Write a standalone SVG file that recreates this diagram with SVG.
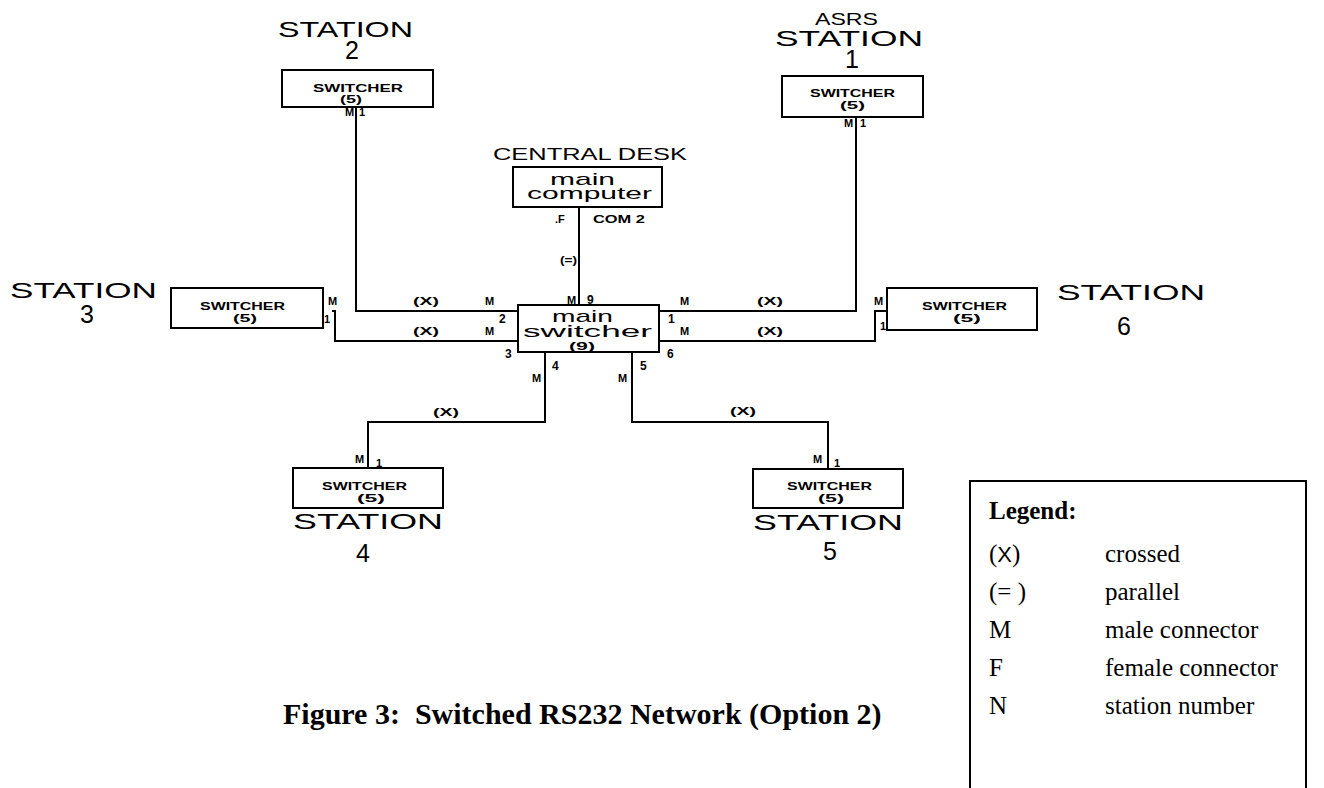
<svg xmlns="http://www.w3.org/2000/svg" width="1324" height="788" viewBox="0 0 1324 788">
<style>
.ln{fill:none;stroke:#000;stroke-width:2}
.bx{fill:#fff;stroke:#000;stroke-width:2}
.st{font-family:"Liberation Sans",Arial,sans-serif;font-size:22px;fill:#000}
.dg{font-family:"Liberation Sans",Arial,sans-serif;font-size:25px;fill:#000;text-anchor:middle}
.md{font-family:"Liberation Sans",Arial,sans-serif;font-size:17px;fill:#000}
.sw{font-family:"Liberation Sans",Arial,sans-serif;font-size:11px;font-weight:bold;fill:#000}
.s5{font-family:"Liberation Sans",Arial,sans-serif;font-size:10px;font-weight:bold;fill:#000}
.sm{font-family:"Liberation Sans",Arial,sans-serif;font-size:11px;font-weight:bold;fill:#000}
.pt{font-family:"Liberation Sans",Arial,sans-serif;font-size:12px;font-weight:bold;fill:#000}
.lg{font-family:"Liberation Serif","Times New Roman",serif;font-size:25px;fill:#000}
.lgb{font-family:"Liberation Serif","Times New Roman",serif;font-size:25px;font-weight:bold;fill:#000}
.cap{font-family:"Liberation Serif","Times New Roman",serif;font-size:30px;font-weight:bold;fill:#000}
</style>
<rect width="1324" height="788" fill="#fff"/>

<g id="connectors">
<path class="ln" d="M356,107 V311 H518"/>
<path class="ln" d="M332,311 H335 V341 H518"/>
<path class="ln" d="M660,311 H856 V117"/>
<path class="ln" d="M660,341 H875 V311 H887"/>
<path class="ln" d="M545,352 V422 H368 V468"/>
<path class="ln" d="M632,352 V422 H828 V469"/>
<path class="ln" d="M579,207 V305"/>
<text class="sm" x="413" y="305" textLength="26" lengthAdjust="spacingAndGlyphs">(X)</text>
<text class="sm" x="413" y="335" textLength="26" lengthAdjust="spacingAndGlyphs">(X)</text>
<text class="sm" x="757" y="305" textLength="26" lengthAdjust="spacingAndGlyphs">(X)</text>
<text class="sm" x="757" y="335" textLength="26" lengthAdjust="spacingAndGlyphs">(X)</text>
<text class="sm" x="433" y="416" textLength="26" lengthAdjust="spacingAndGlyphs">(X)</text>
<text class="sm" x="730" y="415" textLength="26" lengthAdjust="spacingAndGlyphs">(X)</text>
<text class="sm" x="485" y="305">M</text>
<text class="sm" x="485" y="335">M</text>
<text class="sm" x="680" y="305">M</text>
<text class="sm" x="680" y="335">M</text>
<text class="sm" x="532" y="382">M</text>
<text class="sm" x="618" y="382">M</text>
<text class="sm" x="560" y="264" textLength="17" lengthAdjust="spacingAndGlyphs">(=)</text>
</g>

<g id="station2">
<text class="st" x="278" y="37" textLength="135" lengthAdjust="spacingAndGlyphs">STATION</text>
<text class="dg" x="352" y="59">2</text>
<rect class="bx" x="282" y="70" width="151" height="37"/>
<text class="sw" x="313" y="92" textLength="90" lengthAdjust="spacingAndGlyphs">SWITCHER</text>
<text class="s5" x="340" y="103" textLength="22" lengthAdjust="spacingAndGlyphs">(5)</text>
<text class="sm" x="345" y="116">M</text>
<text class="sm" x="359" y="116">1</text>
</g>

<g id="station1">
<text class="md" x="815" y="25" textLength="63" lengthAdjust="spacingAndGlyphs">ASRS</text>
<text class="st" x="775" y="46" textLength="148" lengthAdjust="spacingAndGlyphs">STATION</text>
<text class="dg" x="852" y="68">1</text>
<rect class="bx" x="782" y="76" width="141" height="41"/>
<text class="sw" x="810" y="97" textLength="85" lengthAdjust="spacingAndGlyphs">SWITCHER</text>
<text class="s5" x="840" y="109" textLength="25" lengthAdjust="spacingAndGlyphs">(5)</text>
<text class="sm" x="844" y="127">M</text>
<text class="sm" x="860" y="127">1</text>
</g>

<g id="central-desk">
<text class="md" x="493" y="160" textLength="194" lengthAdjust="spacingAndGlyphs">CENTRAL DESK</text>
<rect class="bx" x="513" y="167" width="149" height="40"/>
<text class="md" x="550" y="185" textLength="65" lengthAdjust="spacingAndGlyphs">main</text>
<text class="md" x="527" y="199" textLength="125" lengthAdjust="spacingAndGlyphs">computer</text>
<text class="sm" x="555" y="223">.F</text>
<text class="sm" x="593" y="223" textLength="52" lengthAdjust="spacingAndGlyphs">COM 2</text>
</g>

<g id="main-switcher">
<rect class="bx" x="518" y="305" width="141" height="47"/>
<text class="md" x="552" y="322" textLength="61" lengthAdjust="spacingAndGlyphs">main</text>
<text class="md" x="523" y="337" textLength="129" lengthAdjust="spacingAndGlyphs">switcher</text>
<text class="s5" x="569" y="350" textLength="26" lengthAdjust="spacingAndGlyphs">(9)</text>
<text class="sm" x="567" y="304">M</text>
<text class="pt" x="587" y="304">9</text>
<text class="pt" x="499" y="323">2</text>
<text class="pt" x="505" y="358">3</text>
<text class="pt" x="552" y="370">4</text>
<text class="pt" x="640" y="370">5</text>
<text class="pt" x="668" y="323">1</text>
<text class="pt" x="667" y="358">6</text>
</g>

<g id="station3">
<text class="st" x="10" y="298" textLength="147" lengthAdjust="spacingAndGlyphs">STATION</text>
<text class="dg" x="87" y="323">3</text>
<rect class="bx" x="171" y="288" width="152" height="40"/>
<text class="sw" x="200" y="310" textLength="85" lengthAdjust="spacingAndGlyphs">SWITCHER</text>
<text class="s5" x="233" y="322" textLength="24" lengthAdjust="spacingAndGlyphs">(5)</text>
<text class="sm" x="328" y="305">M</text>
<text class="sm" x="324" y="323">1</text>
</g>

<g id="station6">
<rect class="bx" x="887" y="288" width="150" height="42"/>
<text class="sw" x="922" y="310" textLength="85" lengthAdjust="spacingAndGlyphs">SWITCHER</text>
<text class="s5" x="953" y="322" textLength="28" lengthAdjust="spacingAndGlyphs">(5)</text>
<text class="st" x="1057" y="300" textLength="148" lengthAdjust="spacingAndGlyphs">STATION</text>
<text class="dg" x="1124" y="335">6</text>
<text class="sm" x="874" y="305">M</text>
<text class="sm" x="880" y="330">1</text>
</g>

<g id="station4">
<rect class="bx" x="293" y="468" width="150" height="40"/>
<text class="sw" x="322" y="490" textLength="85" lengthAdjust="spacingAndGlyphs">SWITCHER</text>
<text class="s5" x="357" y="502" textLength="28" lengthAdjust="spacingAndGlyphs">(5)</text>
<text class="st" x="293" y="529" textLength="150" lengthAdjust="spacingAndGlyphs">STATION</text>
<text class="dg" x="363" y="562">4</text>
<text class="sm" x="355" y="463">M</text>
<text class="sm" x="376" y="467">1</text>
</g>

<g id="station5">
<rect class="bx" x="753" y="469" width="150" height="39"/>
<text class="sw" x="787" y="490" textLength="85" lengthAdjust="spacingAndGlyphs">SWITCHER</text>
<text class="s5" x="818" y="502" textLength="26" lengthAdjust="spacingAndGlyphs">(5)</text>
<text class="st" x="753" y="530" textLength="150" lengthAdjust="spacingAndGlyphs">STATION</text>
<text class="dg" x="830" y="560">5</text>
<text class="sm" x="813" y="463">M</text>
<text class="sm" x="834" y="467">1</text>
</g>

<g id="legend">
<rect x="970" y="481" width="336" height="330" fill="none" stroke="#000" stroke-width="2"/>
<text class="lgb" x="989" y="519">Legend:</text>
<text class="lg" x="989" y="562">(<tspan font-family="Liberation Sans, Arial, sans-serif" font-size="22">X</tspan>)</text>
<text class="lg" x="1105" y="562">crossed</text>
<text class="lg" x="989" y="600">(=&#160;)</text>
<text class="lg" x="1105" y="600">parallel</text>
<text class="lg" x="989" y="638">M</text>
<text class="lg" x="1105" y="638">male connector</text>
<text class="lg" x="989" y="676">F</text>
<text class="lg" x="1105" y="676">female connector</text>
<text class="lg" x="989" y="714">N</text>
<text class="lg" x="1105" y="714">station number</text>
</g>

<text id="caption" class="cap" x="283" y="724">Figure 3:&#160; Switched RS232 Network (Option 2)</text>
</svg>
